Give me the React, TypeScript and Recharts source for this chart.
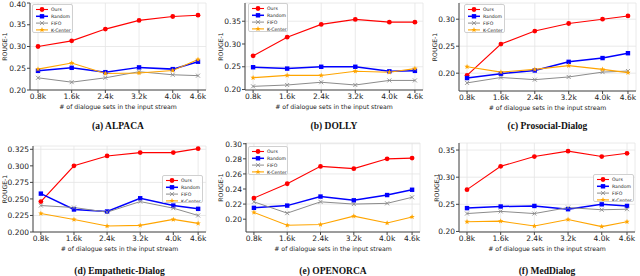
import React from "react";
import { LineChart, Line, XAxis, YAxis, CartesianGrid, Legend } from "recharts";

// x values: thousands of dialogue sets in the input stream
const streamSizes = [0.8, 1.6, 2.4, 3.2, 4.0, 4.6];

const alpacaOurs = [0.3, 0.313, 0.34, 0.36, 0.369, 0.372];
const alpacaRandom = [0.244, 0.251, 0.241, 0.252, 0.248, 0.265];
const alpacaFifo = [0.228, 0.218, 0.228, 0.242, 0.235, 0.233];
const alpacaKCenter = [0.248, 0.262, 0.238, 0.239, 0.245, 0.27];

const dollyOurs = [0.274, 0.315, 0.343, 0.354, 0.348, 0.348];
const dollyRandom = [0.249, 0.246, 0.25, 0.25, 0.24, 0.241];
const dollyFifo = [0.207, 0.21, 0.216, 0.21, 0.22, 0.22];
const dollyKCenter = [0.226, 0.231, 0.231, 0.24, 0.238, 0.246];

const prosocialOurs = [0.196, 0.254, 0.278, 0.292, 0.3, 0.306];
const prosocialRandom = [0.191, 0.199, 0.205, 0.221, 0.228, 0.237];
const prosocialFifo = [0.182, 0.192, 0.188, 0.193, 0.202, 0.204];
const prosocialKCenter = [0.212, 0.202, 0.207, 0.214, 0.207, 0.201];

const empatheticOurs = [0.246, 0.3, 0.315, 0.32, 0.32, 0.326];
const empatheticRandom = [0.258, 0.234, 0.231, 0.251, 0.24, 0.235];
const empatheticFifo = [0.24, 0.237, 0.23, 0.246, 0.236, 0.225];
const empatheticKCenter = [0.228, 0.219, 0.209, 0.21, 0.219, 0.213];

const openorcaOurs = [0.228, 0.247, 0.27, 0.267, 0.28, 0.281];
const openorcaRandom = [0.215, 0.218, 0.23, 0.225, 0.232, 0.239];
const openorcaFifo = [0.223, 0.208, 0.223, 0.22, 0.221, 0.229];
const openorcaKCenter = [0.209, 0.192, 0.193, 0.204, 0.195, 0.203];

const medOurs = [0.277, 0.32, 0.338, 0.348, 0.338, 0.344];
const medRandom = [0.243, 0.246, 0.247, 0.241, 0.25, 0.247];
const medFifo = [0.233, 0.237, 0.233, 0.244, 0.24, 0.241];
const medKCenter = [0.218, 0.219, 0.21, 0.222, 0.209, 0.218];

const methods = [
  { key: "Ours", label: "Ours", color: "#ff0000", width: 1.1, shape: "circle" },
  { key: "Random", label: "Random", color: "#0000ff", width: 1.5, shape: "square" },
  { key: "FIFO", label: "FIFO", color: "#8c8c8c", width: 1, shape: "x" },
  { key: "KCenter", label: "K-Center", color: "#ffa500", width: 1.1, shape: "star" },
];

const FONT = "'DejaVu Sans', sans-serif";

function Marker({ shape, cx, cy, color }: any) {
  if (cx == null || cy == null) return null;
  if (shape === "circle") return <circle cx={cx} cy={cy} r={2.4} fill={color} />;
  if (shape === "square")
    return <rect x={cx - 2.2} y={cy - 2.2} width={4.4} height={4.4} fill={color} />;
  if (shape === "x")
    return (
      <path
        d={`M${cx - 2},${cy - 2}L${cx + 2},${cy + 2}M${cx - 2},${cy + 2}L${cx + 2},${cy - 2}`}
        stroke={color}
        strokeWidth={0.9}
        fill="none"
      />
    );
  const pts: string[] = [];
  for (let i = 0; i < 10; i++) {
    const r = i % 2 === 0 ? 2.8 : 1.2;
    const a = (Math.PI / 5) * i - Math.PI / 2;
    pts.push(`${cx + r * Math.cos(a)},${cy + r * Math.sin(a)}`);
  }
  return <polygon points={pts.join(" ")} fill={color} />;
}

function LegendBox() {
  return (
    <div
      style={{
        background: "rgba(255,255,255,0.85)",
        border: "0.8px solid #d0d0d0",
        borderRadius: 2,
        width: "100%",
        height: "100%",
        boxSizing: "border-box",
      }}
    >
      <svg width="100%" height="100%">
        {methods.map((m, i) => {
          const y = 4.5 + i * 6.8;
          return (
            <g key={m.key}>
              <line x1={3} x2={15} y1={y} y2={y} stroke={m.color} strokeWidth={m.width} />
              <Marker shape={m.shape} cx={9} cy={y} color={m.color} />
              <text x={18} y={y + 1.6} fontSize={4.6} fontFamily={FONT} fill="#222">
                {m.label}
              </text>
            </g>
          );
        })}
      </svg>
    </div>
  );
}

function Panel(props: any) {
  const { x, y, w, h, plot, domain, ticks, digits, series, legend, caption, captionY, ylabelX } = props;
  const data = streamSizes.map((s, i) => ({
    size: s,
    Ours: series[0][i],
    Random: series[1][i],
    FIFO: series[2][i],
    KCenter: series[3][i],
  }));
  const yw = plot.left - x;
  const plotMidX = (plot.left + plot.right) / 2 - x;
  const plotMidY = (plot.top + plot.bottom) / 2 - y;
  return (
    <>
      <div style={{ position: "absolute", left: x, top: y, width: w, height: h }}>
        <LineChart
          width={w}
          height={h}
          data={data}
          margin={{ top: plot.top - y, right: x + w - plot.right, bottom: 0, left: 0 }}
        >
          <CartesianGrid stroke="#e4e4e4" strokeWidth={0.8} />
          <XAxis
            dataKey="size"
            type="number"
            domain={[0.61, 4.79]}
            ticks={streamSizes}
            allowDataOverflow
            tickFormatter={(v: number) => v.toFixed(1) + "k"}
            height={h - (plot.bottom - y)}
            stroke="#444"
            tickSize={3}
            tickMargin={1}
            tick={{ fontSize: 7.5, fill: "#222", fontFamily: FONT }}
            label={() => (
              <text
                x={plotMidX}
                y={plot.bottom - y + 19}
                textAnchor="middle"
                fontSize={6.2}
                fontFamily={FONT}
                fill="#222"
              >
                # of dialogue sets in the input stream
              </text>
            )}
          />
          <XAxis xAxisId="top" orientation="top" height={0} tick={false} tickLine={false} stroke="#444" />
          <YAxis
            type="number"
            domain={domain}
            ticks={ticks}
            allowDataOverflow
            width={yw}
            stroke="#444"
            tickSize={3}
            tickMargin={1}
            tickFormatter={(v: number) => v.toFixed(digits)}
            tick={{ fontSize: 7.5, fill: "#222", fontFamily: FONT }}
            label={() => (
              <text
                x={ylabelX}
                y={plotMidY}
                textAnchor="middle"
                fontSize={6.2}
                fontFamily={FONT}
                fill="#222"
                transform={`rotate(-90 ${ylabelX} ${plotMidY})`}
                dominantBaseline="central"
              >
                ROUGE-1
              </text>
            )}
          />
          <YAxis yAxisId="right" orientation="right" width={0} tick={false} tickLine={false} stroke="#444" />
          {methods.map((m) => (
            <Line
              key={m.key}
              dataKey={m.key}
              stroke={m.color}
              strokeWidth={m.width}
              isAnimationActive={false}
              dot={(p: any) => <Marker key={p.index} shape={m.shape} cx={p.cx} cy={p.cy} color={m.color} />}
            />
          ))}
          <Legend
            layout="vertical"
            align="center"
            verticalAlign="middle"
            content={() => <LegendBox />}
            wrapperStyle={{
              left: legend.left,
              top: legend.top,
              width: legend.width,
              height: legend.height,
            }}
          />
        </LineChart>
      </div>
      <div
        style={{
          position: "absolute",
          left: x,
          width: (plot.left + plot.right) - 2 * x,
          top: captionY - 6,
          textAlign: "center",
          fontFamily: "'Liberation Serif', serif",
          fontWeight: "bold",
          fontSize: 9.5,
          lineHeight: "12px",
          color: "#111",
        }}
      >
        {caption}
      </div>
    </>
  );
}

export default function App() {
  return (
    <div style={{ position: "absolute", left: 0, top: 0, width: 640, height: 276, background: "#fff" }}>
      <Panel
        x={0} y={0} w={213} h={112}
        plot={{ left: 30, top: 3, right: 206, bottom: 90 }}
        domain={[0.2, 0.4]} ticks={[0.2, 0.25, 0.3, 0.35, 0.4]} digits={2}
        series={[alpacaOurs, alpacaRandom, alpacaFifo, alpacaKCenter]}
        legend={{ left: 32, top: 4, width: 41, height: 29 }}
        caption="(a) ALPACA" captionY={126} ylabelX={4}
      />
      <Panel
        x={213} y={0} w={213} h={112}
        plot={{ left: 245, top: 3, right: 423, bottom: 90 }}
        domain={[0.199, 0.39]} ticks={[0.2, 0.25, 0.3, 0.35]} digits={2}
        series={[dollyOurs, dollyRandom, dollyFifo, dollyKCenter]}
        legend={{ left: 35, top: 3, width: 40, height: 29 }}
        caption="(b) DOLLY" captionY={126} ylabelX={7}
      />
      <Panel
        x={426} y={0} w={214} h={113}
        plot={{ left: 459, top: 3, right: 636, bottom: 91 }}
        domain={[0.167, 0.33]} ticks={[0.2, 0.25, 0.3]} digits={2}
        series={[prosocialOurs, prosocialRandom, prosocialFifo, prosocialKCenter]}
        legend={{ left: 38, top: 4, width: 41, height: 29 }}
        caption="(c) Prosocial-Dialog" captionY={126} ylabelX={8}
      />
      <Panel
        x={0} y={140} w={213} h={114}
        plot={{ left: 33, top: 146, right: 206, bottom: 232 }}
        domain={[0.2, 0.33]} ticks={[0.2, 0.225, 0.25, 0.275, 0.3, 0.325]} digits={3}
        series={[empatheticOurs, empatheticRandom, empatheticFifo, empatheticKCenter]}
        legend={{ left: 162, top: 35, width: 41, height: 28 }}
        caption="(d) Empathetic-Dialog" captionY={271} ylabelX={4}
      />
      <Panel
        x={213} y={140} w={213} h={114}
        plot={{ left: 246, top: 143, right: 420, bottom: 232 }}
        domain={[0.183, 0.301]} ticks={[0.2, 0.22, 0.24, 0.26, 0.28, 0.3]} digits={2}
        series={[openorcaOurs, openorcaRandom, openorcaFifo, openorcaKCenter]}
        legend={{ left: 35, top: 6, width: 40, height: 29 }}
        caption="(e) OPENORCA" captionY={271} ylabelX={7}
      />
      <Panel
        x={426} y={140} w={214} h={114}
        plot={{ left: 459, top: 143, right: 635, bottom: 232 }}
        domain={[0.199, 0.363]} ticks={[0.2, 0.25, 0.3, 0.35]} digits={2}
        series={[medOurs, medRandom, medFifo, medKCenter]}
        legend={{ left: 167, top: 34, width: 41, height: 28 }}
        caption="(f) MedDialog" captionY={271} ylabelX={10}
      />
    </div>
  );
}
